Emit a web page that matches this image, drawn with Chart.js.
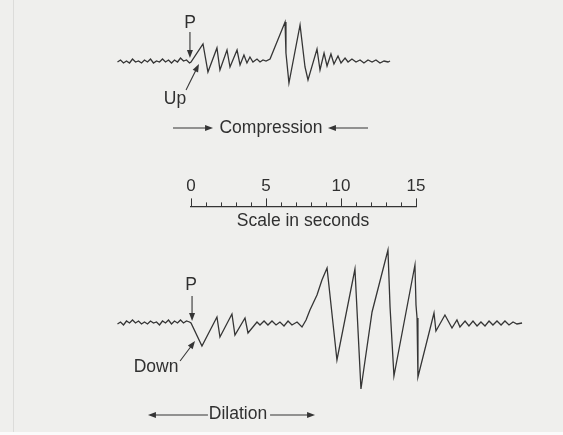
<!DOCTYPE html>
<html>
<head>
<meta charset="utf-8">
<script src="https://cdn.jsdelivr.net/npm/chart.js@4/dist/chart.umd.min.js"></script>
<style>
  html, body { margin: 0; padding: 0; }
  body { width: 563px; height: 435px; background: #efefed; position: relative; overflow: hidden;
         font-family: "Liberation Sans", Arial, Helvetica, sans-serif; color: #303030; }
  canvas { position: absolute; left: 0; top: 0; }
  .lbl { position: absolute; font-size: 17.5px; line-height: 1; white-space: nowrap; transform: translate(-50%, -50%); }
  .edge { position: absolute; left: 13px; top: 0; width: 1px; height: 432px; background: #dcdcda; }
  .foot { position: absolute; left: 0; bottom: 0; width: 563px; height: 3px; background: #fbfbfb; }
</style>
</head>
<body>
<div class="edge"></div>
<div class="foot"></div>
<canvas id="traces" width="563" height="435"></canvas>
<canvas id="scaleBar" width="563" height="435"></canvas>
<div class="lbl" style="left:190px; top:23px;">P</div>
<div class="lbl" style="left:175px; top:99px;">Up</div>
<div class="lbl" style="left:271px; top:128px;">Compression</div>
<div class="lbl" style="left:303px; top:221px;">Scale in seconds</div>
<div class="lbl" style="left:191px; top:285px;">P</div>
<div class="lbl" style="left:156px; top:367px;">Down</div>
<div class="lbl" style="left:238px; top:414px;">Dilation</div>
<script>
// seismogram with P arriving as compression (first motion up)
const topTimes = [-4.9, -4.7, -4.5, -4.3, -4.1, -3.9, -3.7, -3.5, -3.3, -3.1, -2.9, -2.7, -2.5,
  -2.3, -2.1, -1.9, -1.7, -1.5, -1.3, -1.1, -0.9, -0.7, -0.5, -0.3, -0.1, 0,
  0.8, 1.13, 1.73, 1.93, 2.4, 2.6, 3.07, 3.27, 3.53, 3.73, 3.93, 4.13, 4.4, 4.6, 4.8, 5.0, 5.27,
  6.27, 6.33, 6.53, 7.27, 7.6, 7.8, 8.4, 8.6, 8.87, 9.07, 9.33, 9.53, 9.8, 10.0, 10.27, 10.47,
  10.73, 11.0, 11.27, 11.53, 11.8, 12.07, 12.33, 12.6, 12.87, 13.13, 13.27];
const topAmps = [0, 2, -1, 1, -1, 3, 0, 1, -1, 2, 0, 3, -1,
  1, 0, 3, 0, 2, -1, 2, 0, 4, 1, 2, -1, 0,
  18, -10, 14, -8, 12, -5, 12, -3, 7, -1, 5, 0, 3, 0, 2, 1, 3,
  40, 9, -21, 37, -5, -18, 13, -8, 9, -4, 8, -2, 6, -1, 4, 0,
  3, 0, 2, -1, 2, 0, 2, -1, 1, 0, 1];

// seismogram with P arriving as dilation (first motion down)
const bottomTimes = [-4.9, -4.7, -4.5, -4.3, -4.1, -3.9, -3.7, -3.5, -3.3, -3.1, -2.9, -2.7, -2.5,
  -2.3, -2.1, -1.9, -1.7, -1.5, -1.3, -1.1, -0.9, -0.7, -0.5, -0.3, -0.1, 0,
  0.73, 1.73, 1.93, 2.73, 2.93, 3.6, 3.8, 4.4, 4.6, 4.87, 5.13, 5.4, 5.67, 5.93, 6.2, 6.47, 6.73,
  7.07, 7.4, 7.67, 7.93, 8.4, 8.73, 9.07, 9.73, 10.93, 11.33, 12.07, 13.13, 13.27, 13.53,
  14.93, 15.0, 15.07, 15.13, 16.2, 16.33, 16.93, 17.4, 17.73, 17.93, 18.27, 18.53, 18.8, 19.07,
  19.33, 19.6, 19.87, 20.13, 20.4, 20.67, 20.93, 21.2, 21.47, 21.73, 22.07];
const bottomAmps = [-1, 1, -2, 2, 0, 3, 0, 2, -1, 1, -1, 2, 0,
  1, -2, 2, 0, 3, -1, 2, 0, 3, 0, 2, 1, 0,
  -23, 6, -14, 9, -12, 5, -10, 1, -2, 2, -2, 2, -2, 1, -3, 2, -2,
  1, -4, 3, 13, 28, 43, 55, -37, 54, -66, 11, 73, 16, -53,
  58, 18, 5, -54, 10, -8, 8, -5, 3, -4, 2, -3, 2, -3,
  1, -3, 2, -2, 2, -2, 2, -2, 1, -1, 0];

const scaleTicks = [0, 1, 2, 3, 4, 5, 6, 7, 8, 9, 10, 11, 12, 13, 14, 15];
const tickLabels = ['0', '5', '10', '15'];

// layout
const PX_PER_SEC = 15;
const ORIGIN_X = 191;
const TOP_BASE = -62;
const BOTTOM_BASE = -323;
const INK = '#353535';

const toPoints = (ts, as, base) => ts.map((t, i) => ({ x: t, y: base + as[i] }));

// annotation arrows in chart units (seconds, amplitude units)
const arrows = [
  { x1: -0.07, y1: -32, x2: -0.07, y2: -58 },
  { x1: -0.33, y1: -90, x2: 0.53, y2: -64 },
  { x1: -1.2, y1: -128, x2: 1.47, y2: -128 },
  { x1: 11.8, y1: -128, x2: 9.13, y2: -128 },
  { x1: 0.07, y1: -296, x2: 0.07, y2: -321 },
  { x1: -0.73, y1: -361, x2: 0.27, y2: -341 },
  { x1: 1.13, y1: -415, x2: -2.87, y2: -415 },
  { x1: 5.27, y1: -415, x2: 8.27, y2: -415 }
];

const arrowPlugin = {
  id: 'arrows',
  afterDatasetsDraw(chart) {
    const { ctx, scales: { x, y } } = chart;
    ctx.save();
    ctx.strokeStyle = INK;
    ctx.fillStyle = INK;
    ctx.lineWidth = 1.1;
    arrows.forEach(a => {
      const x1 = x.getPixelForValue(a.x1), y1 = y.getPixelForValue(a.y1);
      const x2 = x.getPixelForValue(a.x2), y2 = y.getPixelForValue(a.y2);
      const ang = Math.atan2(y2 - y1, x2 - x1);
      ctx.beginPath();
      ctx.moveTo(x1, y1);
      ctx.lineTo(x2 - 5 * Math.cos(ang), y2 - 5 * Math.sin(ang));
      ctx.stroke();
      ctx.beginPath();
      ctx.moveTo(x2, y2);
      ctx.lineTo(x2 - 8 * Math.cos(ang) + 3 * Math.sin(ang), y2 - 8 * Math.sin(ang) - 3 * Math.cos(ang));
      ctx.lineTo(x2 - 8 * Math.cos(ang) - 3 * Math.sin(ang), y2 - 8 * Math.sin(ang) + 3 * Math.cos(ang));
      ctx.closePath();
      ctx.fill();
    });
    ctx.restore();
  }
};

new Chart(document.getElementById('traces'), {
  type: 'line',
  data: {
    datasets: [
      { label: 'Compression', data: toPoints(topTimes, topAmps, TOP_BASE) },
      { label: 'Dilation', data: toPoints(bottomTimes, bottomAmps, BOTTOM_BASE) }
    ]
  },
  options: {
    responsive: false,
    animation: false,
    events: [],
    layout: { padding: 0 },
    elements: {
      line: { borderColor: INK, borderWidth: 1.3, tension: 0, fill: false },
      point: { radius: 0 }
    },
    scales: {
      x: { type: 'linear', display: false, min: -ORIGIN_X / PX_PER_SEC, max: (563 - ORIGIN_X) / PX_PER_SEC },
      y: { type: 'linear', display: false, min: -435, max: 0 }
    },
    plugins: { legend: { display: false }, tooltip: { enabled: false } }
  },
  plugins: [arrowPlugin]
});

// longer ticks at the labelled seconds
const majorTicks = {
  id: 'majorTicks',
  afterDraw(chart) {
    const s = chart.scales.x;
    const ctx = chart.ctx;
    ctx.save();
    ctx.strokeStyle = INK;
    ctx.lineWidth = 1;
    tickLabels.forEach(l => {
      const px = Math.round(s.getPixelForValue(Number(l))) + 0.5;
      ctx.beginPath();
      ctx.moveTo(px, s.bottom);
      ctx.lineTo(px, s.bottom - 8);
      ctx.stroke();
    });
    ctx.restore();
  }
};

new Chart(document.getElementById('scaleBar'), {
  type: 'line',
  data: { labels: [], datasets: [] },
  options: {
    responsive: false,
    animation: false,
    events: [],
    layout: { padding: { left: ORIGIN_X, right: 563 - ORIGIN_X - 15 * PX_PER_SEC, top: 170, bottom: 0 } },
    scales: {
      x: {
        type: 'linear', position: 'top', min: scaleTicks[0], max: scaleTicks[scaleTicks.length - 1],
        afterBuildTicks: axis => { axis.ticks = scaleTicks.map(v => ({ value: v })); },
        ticks: {
          autoSkip: false, maxRotation: 0, padding: 6, color: '#303030',
          font: { family: '"Liberation Sans", Arial, sans-serif', size: 17 },
          callback: v => tickLabels.includes(String(v)) ? String(v) : ''
        },
        grid: { drawOnChartArea: false, tickLength: 4, color: INK, lineWidth: 1 },
        border: { color: INK, width: 1.3 }
      },
      y: { display: false, min: 0, max: 1 }
    },
    plugins: { legend: { display: false }, tooltip: { enabled: false } }
  },
  plugins: [majorTicks]
});
</script>
</body>
</html>
